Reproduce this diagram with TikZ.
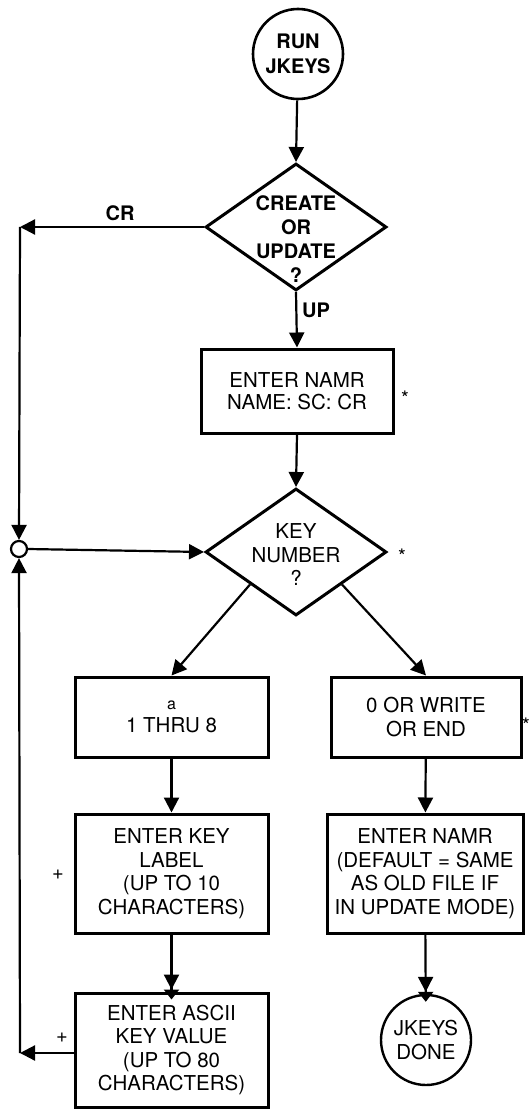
\documentclass[tikz,border=0pt]{standalone}
\usepackage{fontspec}
\setmainfont{TeX Gyre Heros}
\usetikzlibrary{arrows.meta,shapes.geometric,calc}
\begin{document}
\begin{tikzpicture}[x=1pt,y=-1pt,
  every node/.style={font=\fontsize{20.5}{23.5}\selectfont, align=center, inner sep=0pt},
  box/.style={draw, line width=3pt, minimum width=193pt, minimum height=80pt},
  term/.style={draw, circle, line width=2.6pt, minimum size=90pt},
  dec/.style={draw, diamond, line width=3pt, minimum width=181pt, minimum height=127pt},
  conn/.style={line width=2.2pt},
  arr/.style={conn, -{Triangle[length=15pt,width=15pt]}},
  darr/.style={conn, -{Triangle[length=15pt,width=15pt] Triangle[length=10pt,width=15pt,sep=-8pt]}},
  bt/.style={font=\bfseries\fontsize{20}{24}\selectfont},
  symb/.style={font=\fontsize{20}{22}\selectfont},
]
\useasboundingbox (0,0) rectangle (531,1110);

% nodes
\node[term, bt, font=\bfseries\fontsize{20}{25}\selectfont] (run) at (298,54) {RUN\\JKEYS};
\node[dec] (d1) at (296,227) {};
\node[bt] (d1t) at (296,239) {CREATE\\OR\\UPDATE\\?};
\node[box, minimum width=192pt, minimum height=84pt, font=\fontsize{20.5}{21.5}\selectfont] (namr1) at (297,391) {ENTER NAMR\\NAME: SC: CR};
\node[dec] (d2) at (296,552) {};
\node (d2t) at (296,555) {KEY\\NUMBER\\?};
\node[draw, circle, line width=2.2pt, minimum size=16pt] (jn) at (19,549) {};

\node[box] (boxa) at (171.5,717) {{\fontsize{16}{18}\selectfont a}\\1 THRU 8};
\node[box, minimum width=190pt] (boxb) at (426,717) {0 OR WRITE\\OR END};
\node[box, minimum height=119pt] (label) at (171.5,873.5) {ENTER KEY\\LABEL\\(UP TO 10\\CHARACTERS)};
\node[box, minimum width=196pt, minimum height=119pt] (namr2) at (425,873.5) {ENTER NAMR\\(DEFAULT = SAME\\AS OLD FILE IF\\IN UPDATE MODE)};
\node[box, minimum height=114pt] (ascii) at (171.5,1050) {ENTER ASCII\\KEY VALUE\\(UP TO 80\\CHARACTERS)};
\node[term, line width=2.4pt] (done) at (426,1040) {JKEYS\\DONE};

% free ends
\coordinate (crl) at (20,227);
\coordinate (pl) at (20,1053);

% labels
\node[bt] (crlab) at (120,213) {CR};
\node[bt] (uplab) at (316,310) {UP};
\node[symb] (s1) at (405,398) {*};
\node[symb] (s2) at (402,556) {*};
\node[symb] (s3) at (526,725) {*};
\node[symb] (p1) at (58,875) {+};
\node[symb] (p2) at (62,1038) {+};

% connectors
\draw[arr] (run) -- (d1.north);
\draw[arr] (d1.west) -- (crl);
\draw[arr] (crl) -- (jn.north);
\draw[arr] (d1.south) -- (namr1.north);
\draw[arr] (namr1.south) -- (d2.north);
\draw[arr] (jn.east) -- (d2.west);
\draw[arr] ($(d2.west)!0.5!(d2.south)$) -- (boxa.north);
\draw[arr] ($(d2.east)!0.5!(d2.south)$) -- (boxb.north);
\draw[arr] (boxa) -- (label);
\draw[darr] (label) -- (ascii);
\draw[arr] (boxb) -- (namr2);
\draw[darr] (namr2) -- (done);
\draw[arr] (ascii.west |- pl) -- (pl);
\draw[arr] (pl) -- (jn.south);
\end{tikzpicture}
\end{document}
